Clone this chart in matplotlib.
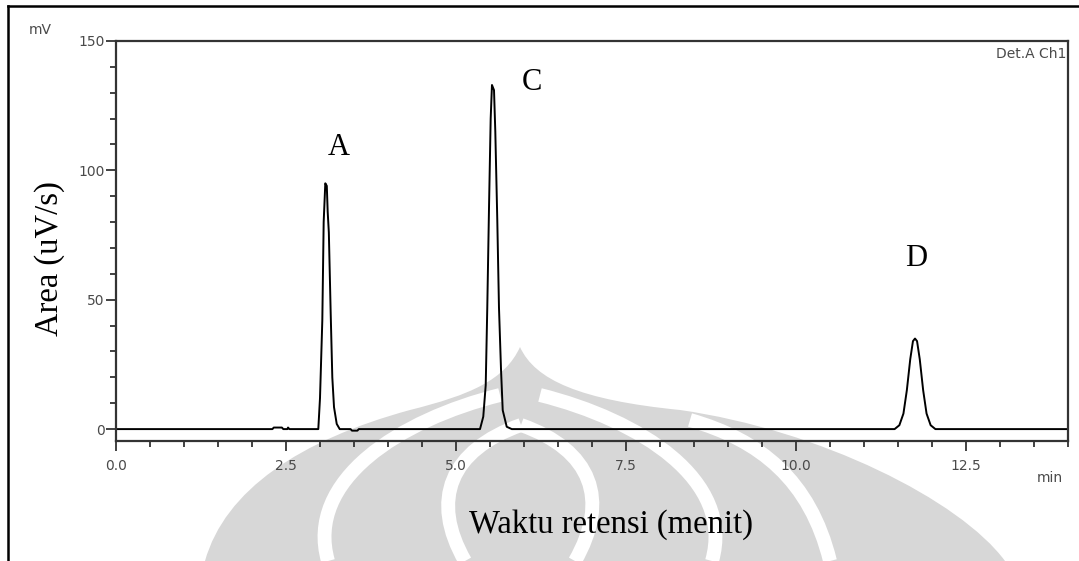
import matplotlib
matplotlib.use('Agg')
import matplotlib.pyplot as plt
from matplotlib.path import Path
from matplotlib.patches import PathPatch
from matplotlib.ticker import MultipleLocator, FormatStrFormatter

W, H = 1079, 561

# Chromatogram trace (time in min, signal in mV)
time = [0.0, 2.30, 2.32, 2.44, 2.46, 2.52, 2.53, 2.55,
        2.975, 3.0, 3.034, 3.054, 3.078, 3.10, 3.113, 3.13, 3.157, 3.181,
        3.206, 3.246, 3.29, 3.45, 3.47, 3.55, 3.57,
        5.353, 5.401, 5.437, 5.46, 5.485, 5.51, 5.529, 5.559, 5.578, 5.607,
        5.632, 5.662, 5.687, 5.746, 5.82,
        11.45, 11.52, 11.58, 11.63, 11.68, 11.72, 11.75, 11.78, 11.82,
        11.87, 11.92, 11.98, 12.05, 14.0]
signal = [0.0, 0.0, 0.6, 0.6, 0.0, 0.0, 0.6, 0.0,
          0.0, 12.0, 42.0, 80.0, 95.0, 94.0, 84.0, 76.0, 45.0, 20.0,
          8.5, 2.0, 0.0, 0.0, -0.6, -0.6, 0.0,
          0.0, 4.8, 17.0, 47.0, 85.0, 120.0, 133.0, 131.0, 115.0, 81.0,
          47.0, 23.0, 7.3, 0.9, 0.0,
          0.0, 1.5, 6.0, 15.0, 27.0, 34.0, 35.0, 34.0, 27.0,
          15.0, 6.0, 1.5, 0.0, 0.0]

peak_names = ['A', 'C', 'D']
peak_label_pos = [(3.27, 109), (6.12, 134), (11.76, 66)]


def fig_xy(px, py):
    return (px / W, 1 - py / H)


def bezier(points, codes):
    return Path([fig_xy(*p) for p in points], codes)


fig = plt.figure(figsize=(W / 100, H / 100), dpi=100)

# faint watermark logo in the background
C4 = Path.CURVE4
gray = '#d7d7d7'
outline = bezier([(205, 561),
                  (225, 490), (300, 440), (410, 410),
                  (470, 395), (505, 380), (520, 347),
                  (535, 380), (580, 400), (680, 410),
                  (820, 430), (960, 500), (1005, 561),
                  (205, 561)],
                 [Path.MOVETO, C4, C4, C4, C4, C4, C4, C4, C4, C4, C4, C4, C4,
                  Path.CLOSEPOLY])
fig.patches.append(PathPatch(outline, facecolor=gray, edgecolor='none',
                             transform=fig.transFigure, zorder=0))
white_arcs = [
    [(328, 561), (305, 480), (400, 420), (500, 395)],
    [(712, 561), (735, 480), (640, 420), (540, 395)],
    [(465, 561), (430, 500), (450, 450), (521, 425)],
    [(575, 561), (610, 500), (592, 450), (521, 425)],
    [(830, 561), (810, 480), (760, 440), (690, 420)],
]
for pts in white_arcs:
    p = bezier(pts, [Path.MOVETO, C4, C4, C4])
    fig.patches.append(PathPatch(p, facecolor='none', edgecolor='white',
                                 lw=10, transform=fig.transFigure, zorder=0))

# outer frame of the page
fig.add_artist(plt.Line2D([8 / W, 1], [1 - 6 / H, 1 - 6 / H], color='black',
                          lw=1.8, transform=fig.transFigure))
fig.add_artist(plt.Line2D([8 / W, 8 / W], [0, 1 - 6 / H], color='black',
                          lw=1.8, transform=fig.transFigure))

ax = fig.add_axes([116 / W, (H - 441) / H, (1068 - 116) / W, (441 - 41) / H])
ax.set_facecolor('none')
ax.set_zorder(1)

ax.plot(time, signal, color='black', lw=1.4)
ax.set_xlim(0, 14)
ax.set_ylim(-4.6, 150)

ax.xaxis.set_major_locator(MultipleLocator(2.5))
ax.xaxis.set_minor_locator(MultipleLocator(0.5))
ax.yaxis.set_major_locator(MultipleLocator(50))
ax.yaxis.set_minor_locator(MultipleLocator(10))
ax.xaxis.set_major_formatter(FormatStrFormatter('%.1f'))
ax.yaxis.set_major_formatter(FormatStrFormatter('%d'))

tick_color = '#4a4a4a'
for s in ax.spines.values():
    s.set_color('#333333')
    s.set_linewidth(1.6)
ax.tick_params(axis='both', which='major', direction='out', length=7,
               width=1.3, color='#333333', labelsize=10, labelcolor=tick_color)
ax.tick_params(axis='both', which='minor', direction='out', length=4,
               width=1.3, color='#333333')
ax.tick_params(axis='x', which='major', pad=6)
ax.tick_params(axis='y', which='major', pad=1)
for lab in ax.get_xticklabels() + ax.get_yticklabels():
    lab.set_family('DejaVu Sans')

sans = dict(family='DejaVu Sans', fontsize=10, color=tick_color)
fig.text(40 / W, 1 - 30 / H, 'mV', ha='center', va='center', **sans)
fig.text(1050 / W, 1 - 478 / H, 'min', ha='center', va='center', **sans)
ax.text(0.998, 0.985, 'Det.A Ch1', transform=ax.transAxes, ha='right',
        va='top', **sans)

serif = dict(family='Liberation Serif', fontsize=22, color='black')
for name, (tx, ty) in zip(peak_names, peak_label_pos):
    ax.text(tx, ty, name, ha='center', va='center', **serif)

label_font = dict(family='Liberation Serif', fontsize=23.5, color='black')
fig.text(50 / W, 1 - 259 / H, 'Area (uV/s)', rotation=90, ha='center',
         va='center', **label_font)
fig.text(611 / W, 1 - 525 / H, 'Waktu retensi (menit)', ha='center',
         va='center', **label_font)

fig.savefig('out.png', dpi=100)
